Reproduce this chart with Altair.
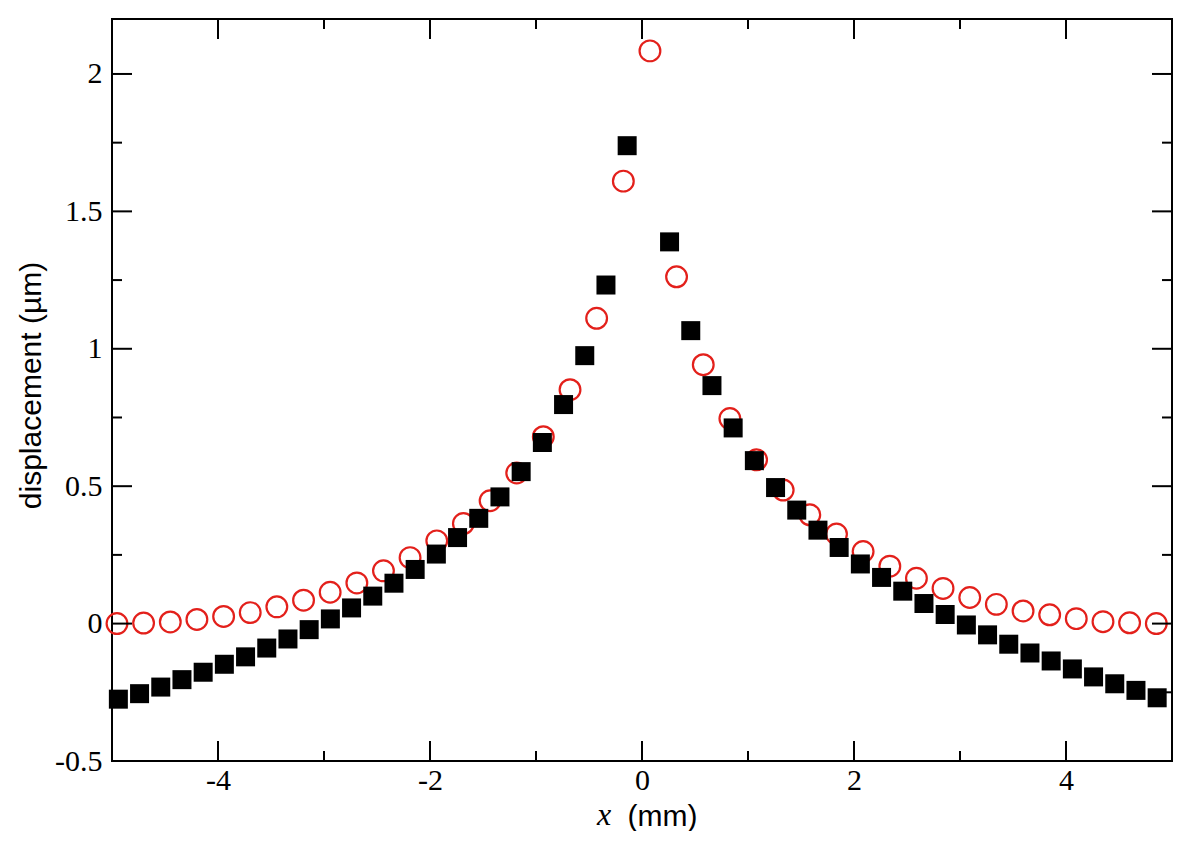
import altair as alt
import pandas as pd

# ---- data ----
sq_x = [-4.94, -4.74, -4.54, -4.34, -4.14, -3.94, -3.74, -3.54, -3.34, -3.14,
        -2.94, -2.74, -2.54, -2.34, -2.14, -1.94, -1.74, -1.54, -1.34, -1.14,
        -0.94, -0.74, -0.54, -0.34, -0.14,
        0.26, 0.46, 0.66, 0.86, 1.06, 1.26, 1.46, 1.66, 1.86, 2.06,
        2.26, 2.46, 2.66, 2.86, 3.06, 3.26, 3.46, 3.66, 3.86, 4.06,
        4.26, 4.46, 4.66, 4.86]
sq_y = [-0.275, -0.255, -0.231, -0.204, -0.177, -0.148, -0.121, -0.089, -0.056, -0.022,
        0.017, 0.057, 0.100, 0.147, 0.197, 0.253, 0.313, 0.383, 0.461, 0.553,
        0.659, 0.797, 0.975, 1.232, 1.739,
        1.389, 1.066, 0.866, 0.712, 0.593, 0.495, 0.413, 0.340, 0.277, 0.217,
        0.168, 0.118, 0.073, 0.033, -0.005, -0.041, -0.075, -0.107, -0.136, -0.165,
        -0.194, -0.219, -0.243, -0.270]

ci_x = [-4.953, -4.702, -4.450, -4.199, -3.947, -3.696, -3.445, -3.193, -2.942, -2.690,
        -2.439, -2.188, -1.936, -1.685, -1.433, -1.182, -0.931, -0.679, -0.428, -0.176,
        0.075, 0.326, 0.578, 0.829, 1.081, 1.332, 1.583, 1.835, 2.086, 2.338,
        2.589, 2.840, 3.092, 3.343, 3.595, 3.846, 4.097, 4.349, 4.600, 4.852]
ci_y = [0.000, 0.002, 0.006, 0.015, 0.026, 0.040, 0.061, 0.085, 0.114, 0.148,
        0.192, 0.240, 0.301, 0.364, 0.447, 0.548, 0.680, 0.851, 1.111, 1.610,
        2.084, 1.262, 0.942, 0.746, 0.596, 0.486, 0.396, 0.326, 0.262, 0.209,
        0.165, 0.128, 0.095, 0.070, 0.046, 0.032, 0.018, 0.007, 0.003, 0.000]

x_major = [-4, -2, 0, 2, 4]
x_minor = [-3, -1, 1, 3]
y_major = [-0.5, 0, 0.5, 1, 1.5, 2]
y_minor = [-0.25, 0.25, 0.75, 1.25, 1.75]

W, H = 1060, 742
MAJ, MIN = 20, 10

xs = alt.Scale(domain=[-5, 5], nice=False, zero=False)
ys = alt.Scale(domain=[-0.5, 2.2], nice=False, zero=False)

df_sq = pd.DataFrame({"x": sq_x, "y": sq_y})
df_ci = pd.DataFrame({"x": ci_x, "y": ci_y})

x_axis = alt.Axis(values=x_major, ticks=False, tickSize=0, domain=False, grid=False,
                  labelExpr="'' + datum.value", labelFont="Liberation Serif",
                  labelFontSize=30, labelColor="black", labelPadding=4,
                  title="(mm)", titleFont="Liberation Sans", titleFontSize=30,
                  titleFontWeight="normal", titleColor="black",
                  titleX=550, titleY=64, titleBaseline="alphabetic", titleAlign="center")
y_axis = alt.Axis(values=y_major, ticks=False, tickSize=0, domain=False, grid=False,
                  labelExpr="'' + datum.value", labelFont="Liberation Serif",
                  labelFontSize=30, labelColor="black", labelPadding=10,
                  title="displacement (µm)", titleFont="Liberation Sans", titleFontSize=30,
                  titleFontWeight="normal", titleColor="black",
                  titleX=-72, titleY=366, titleBaseline="alphabetic", titleAlign="center",
                  titleAngle=270)

circles = alt.Chart(df_ci).mark_point(shape="circle", filled=False, size=430,
                                      color="#e3201b", strokeWidth=2.2, opacity=1).encode(
    x=alt.X("x:Q", scale=xs, axis=x_axis),
    y=alt.Y("y:Q", scale=ys, axis=y_axis),
)
squares = alt.Chart(df_sq).mark_square(size=361, color="black", opacity=1).encode(
    x=alt.X("x:Q", scale=xs),
    y=alt.Y("y:Q", scale=ys),
)


def xticks(vals, length, top):
    df = pd.DataFrame({"x": vals})
    y1 = 0 if top else H
    y2 = length if top else H - length
    return alt.Chart(df).mark_rule(color="black", strokeWidth=2).encode(
        x=alt.X("x:Q", scale=xs), y=alt.value(y1), y2=alt.value(y2))


def yticks(vals, length, right):
    df = pd.DataFrame({"y": vals})
    x1 = W if right else 0
    x2 = W - length if right else length
    return alt.Chart(df).mark_rule(color="black", strokeWidth=2).encode(
        y=alt.Y("y:Q", scale=ys), x=alt.value(x1), x2=alt.value(x2))


xlabel = alt.Chart(pd.DataFrame({"t": ["x"]})).mark_text(
    font="Liberation Serif", fontStyle="italic", fontSize=32, color="black",
    align="center", baseline="alphabetic").encode(
    text="t:N", x=alt.value(492), y=alt.value(806))

chart = alt.layer(
    circles, squares,
    xticks(x_major, MAJ, False), xticks(x_minor, MIN, False),
    xticks(x_major, MAJ, True), xticks(x_minor, MIN, True),
    yticks(y_major, MAJ, False), yticks(y_minor, MIN, False),
    yticks(y_major, MAJ, True), yticks(y_minor, MIN, True),
    xlabel,
).properties(
    width=W, height=H,
    background="white",
    autosize=alt.AutoSizeParams(type="none"),
    padding={"left": 104, "top": 11, "right": 20, "bottom": 70},
).configure_view(stroke="black", strokeWidth=2)

chart.save("out.html", embed_options={"renderer": "svg", "actions": False})
